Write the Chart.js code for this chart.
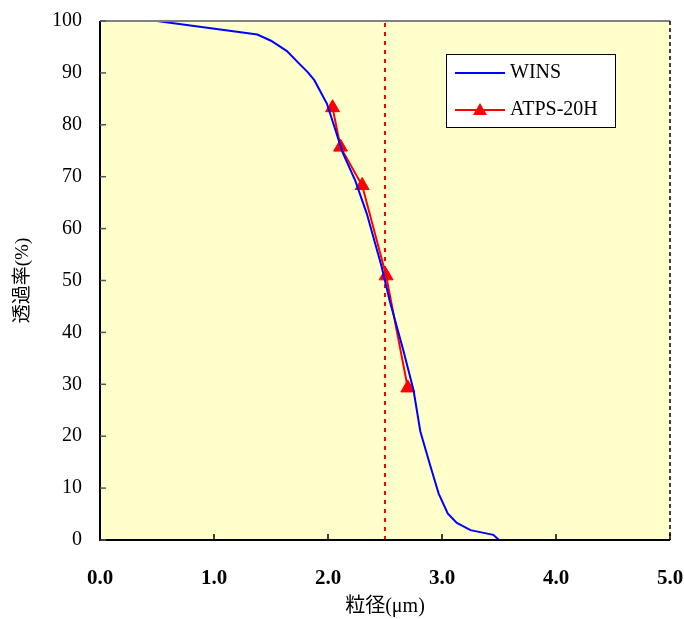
<!DOCTYPE html>
<html lang="ja">
<head>
<meta charset="UTF-8">
<title>透過率</title>
<script src="https://cdn.jsdelivr.net/npm/chart.js"></script>
<style>
  html, body { margin: 0; padding: 0; background: #fff; }
  #wrap { width: 684px; height: 619px; }
</style>
</head>
<body>
<div id="wrap"><canvas id="chart" width="684" height="619"></canvas></div>
<script>
// WINS curve (粒径 µm, 透過率 %)
const winsX = [0.50, 1.38, 1.50, 1.64, 1.76, 1.82, 1.88, 1.99, 2.13, 2.24, 2.34, 2.47, 2.54, 2.66, 2.75, 2.81, 2.90, 2.97, 3.05, 3.13, 3.25, 3.45, 3.50];
const winsY = [100, 97.4, 96.2, 94.2, 91.5, 90.2, 88.6, 84.1, 74.6, 69.2, 62.9, 52.7, 46.2, 36.6, 28.9, 20.9, 14.1, 9.0, 5.1, 3.3, 1.9, 1.0, 0];

// ATPS-20H measured points
const atpsX = [2.04, 2.11, 2.30, 2.51, 2.70];
const atpsY = [83.3, 75.7, 68.3, 50.9, 29.3];

// reference line
const cutX = 2.5;
const cutY = [0, 100];

const xTicks = [0, 1, 2, 3, 4, 5];
const yTicks = [0, 10, 20, 30, 40, 50, 60, 70, 80, 90, 100];

const serif = "'Liberation Serif', 'Times New Roman', 'Noto Sans CJK JP', serif";

// no extra padding from tick labels, the plot box is fixed by layout.padding
function noPad(s) {
    s.paddingLeft = 0; s.paddingRight = 0; s.paddingTop = 0; s.paddingBottom = 0;
}

const frame = {
    id: 'frame',
    beforeDraw(chart) {
        const { ctx, chartArea: a } = chart;
        ctx.save();
        ctx.fillStyle = '#FFFFCC';
        ctx.fillRect(a.left, a.top, a.right - a.left, a.bottom - a.top);
        ctx.restore();
    },
    afterDraw(chart) {
        const { ctx, chartArea: a, scales } = chart;
        ctx.save();
        // top border
        ctx.strokeStyle = '#808080';
        ctx.lineWidth = 2;
        ctx.beginPath(); ctx.moveTo(a.left, a.top); ctx.lineTo(a.right, a.top); ctx.stroke();
        // right border dashed
        ctx.strokeStyle = '#000';
        ctx.lineWidth = 1.5;
        ctx.setLineDash([4, 3]);
        ctx.beginPath(); ctx.moveTo(a.right, a.top); ctx.lineTo(a.right, a.bottom); ctx.stroke();
        ctx.setLineDash([]);
        // left and bottom axes
        ctx.lineWidth = 2;
        ctx.beginPath();
        ctx.moveTo(a.left, a.top); ctx.lineTo(a.left, a.bottom); ctx.lineTo(a.right, a.bottom);
        ctx.stroke();
        // inner ticks
        ctx.lineWidth = 1.5;
        ctx.strokeStyle = '#555';
        yTicks.forEach(v => {
            const y = scales.y.getPixelForValue(v);
            ctx.beginPath(); ctx.moveTo(a.left, y); ctx.lineTo(a.left + 6, y); ctx.stroke();
        });
        ctx.strokeStyle = '#000';
        xTicks.forEach(v => {
            const x = scales.x.getPixelForValue(v);
            ctx.beginPath(); ctx.moveTo(x, a.bottom); ctx.lineTo(x, a.bottom - 6); ctx.stroke();
        });

        // legend box
        const lx = 446, ly = 54, lw = 169, lh = 73;
        ctx.fillStyle = '#fff';
        ctx.fillRect(lx, ly, lw, lh);
        ctx.strokeStyle = '#000';
        ctx.lineWidth = 1;
        ctx.strokeRect(lx + 0.5, ly + 0.5, lw, lh);
        const rows = [73, 110];
        chart.data.datasets.slice(0, 2).forEach((ds, i) => {
            const y = rows[i];
            ctx.strokeStyle = ds.borderColor;
            ctx.lineWidth = 2;
            ctx.beginPath(); ctx.moveTo(455, y); ctx.lineTo(505, y); ctx.stroke();
            if (ds.pointRadius > 0) {
                ctx.fillStyle = ds.borderColor;
                ctx.beginPath();
                ctx.moveTo(480, y - 7); ctx.lineTo(487, y + 5); ctx.lineTo(473, y + 5);
                ctx.closePath(); ctx.fill();
            }
            ctx.fillStyle = '#000';
            ctx.font = '20px ' + serif;
            ctx.textBaseline = 'middle';
            ctx.textAlign = 'left';
            ctx.fillText(ds.label, 510, y);
        });
        ctx.restore();
    }
};

new Chart(document.getElementById('chart'), {
    type: 'scatter',
    data: {
        datasets: [
            {
                label: 'WINS',
                data: winsX.map((x, i) => ({ x, y: winsY[i] })),
                showLine: true,
                borderColor: '#0000FF',
                backgroundColor: '#0000FF',
                borderWidth: 2,
                pointRadius: 0
            },
            {
                label: 'ATPS-20H',
                data: atpsX.map((x, i) => ({ x, y: atpsY[i] })),
                showLine: true,
                borderColor: '#FF0000',
                backgroundColor: '#FF0000',
                borderWidth: 2,
                pointStyle: 'triangle',
                pointRadius: 8,
                pointBorderWidth: 1
            },
            {
                label: 'cut',
                data: cutY.map(y => ({ x: cutX, y })),
                showLine: true,
                borderColor: '#FF0000',
                borderWidth: 2,
                borderDash: [4, 5],
                pointRadius: 0
            }
        ]
    },
    options: {
        responsive: false,
        animation: false,
        layout: { padding: { left: 0, top: 21, right: 14, bottom: 0 } },
        plugins: { legend: { display: false }, tooltip: { enabled: false } },
        scales: {
            x: {
                type: 'linear',
                min: 0, max: 5,
                afterBuildTicks: s => { s.ticks = xTicks.map(v => ({ value: v })); },
                afterFit: s => { s.height = 79; noPad(s); },
                grid: { display: false, drawTicks: false },
                border: { display: false },
                ticks: {
                    padding: 26,
                    color: '#000',
                    font: { family: serif, size: 21, weight: 'bold' },
                    callback: v => v.toFixed(1),
                    maxRotation: 0
                },
                title: {
                    display: true,
                    text: '粒径(μm)',
                    color: '#000',
                    font: { family: serif, size: 20 },
                    padding: { top: 0, bottom: 0 }
                }
            },
            y: {
                type: 'linear',
                min: 0, max: 100,
                afterBuildTicks: s => { s.ticks = yTicks.map(v => ({ value: v })); },
                afterFit: s => { s.width = 100; noPad(s); },
                grid: { display: false, drawTicks: false },
                border: { display: false },
                ticks: {
                    padding: 18,
                    color: '#000',
                    font: { family: serif, size: 20 }
                },
                title: {
                    display: true,
                    text: '透過率(%)',
                    color: '#000',
                    font: { family: serif, size: 19 },
                    padding: { top: 12, bottom: 0 }
                }
            }
        }
    },
    plugins: [frame]
});
</script>
</body>
</html>
